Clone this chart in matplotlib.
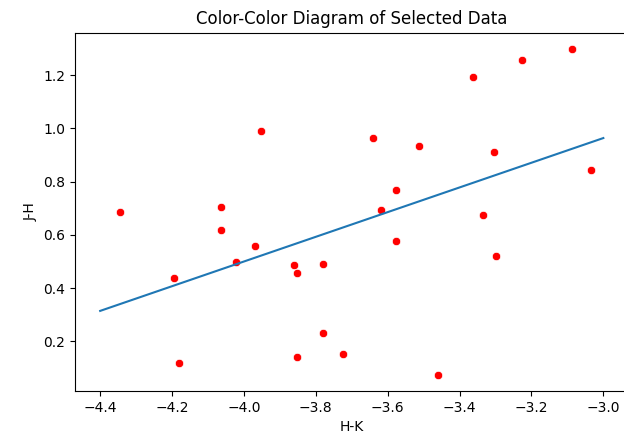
import numpy as np
import matplotlib
matplotlib.use("Agg")
import matplotlib.pyplot as plt

# H-K and J-H colours of the selected data
h_k = [-4.344, -4.194, -4.180, -4.065, -4.065, -4.021, -3.970, -3.952,
       -3.860, -3.851, -3.851, -3.779, -3.779, -3.723, -3.641, -3.618,
       -3.577, -3.577, -3.513, -3.459, -3.362, -3.335, -3.303, -3.299,
       -3.225, -3.088, -3.033]
j_h = [0.687, 0.439, 0.118, 0.706, 0.619, 0.497, 0.558, 0.991,
       0.485, 0.458, 0.142, 0.490, 0.229, 0.150, 0.965, 0.694,
       0.767, 0.575, 0.935, 0.074, 1.194, 0.675, 0.910, 0.520,
       1.256, 1.299, 0.842]

# fitted line
fit_x = [-4.4, -3.0]
fit_y = [0.314, 0.964]

fig = plt.figure(figsize=(6.24, 4.43), dpi=100)
ax = fig.add_axes([0.1202, 0.1174, 0.887, 0.8088])

ax.scatter(h_k, j_h, s=36, color='red', edgecolor='white', linewidth=0.48, zorder=2)
ax.plot(fit_x, fit_y, color='#1f77b4', linewidth=1.5, zorder=3)

ax.set_title("Color-Color Diagram of Selected Data", fontsize=12)
ax.set_xlabel("H-K", fontsize=10)
ax.set_ylabel("J-H", fontsize=10)

fig.savefig("out.png", dpi=100)
